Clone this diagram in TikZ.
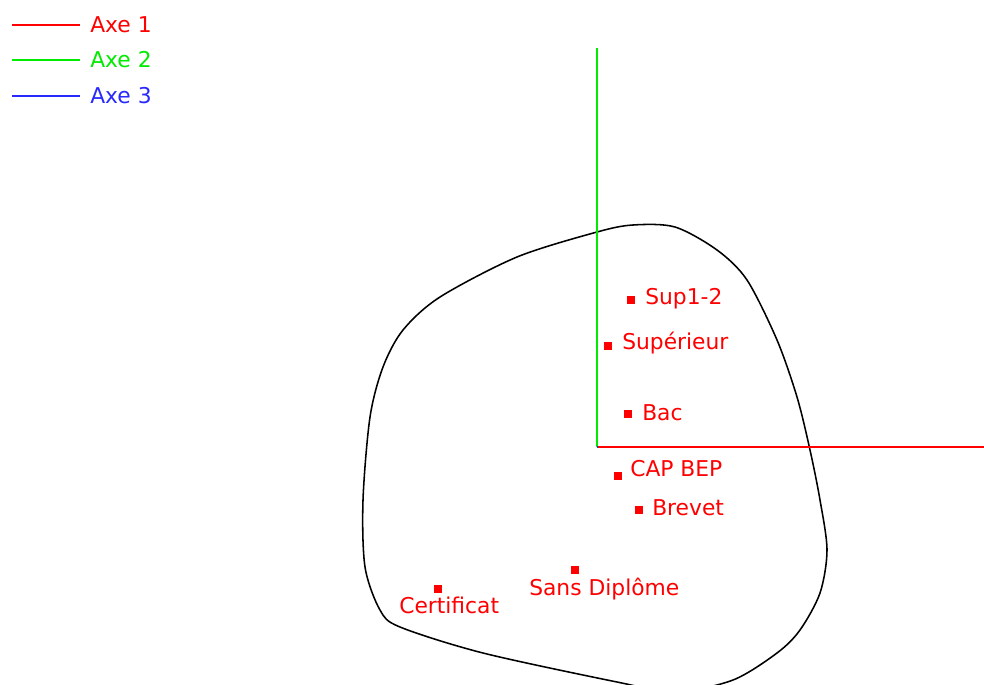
\documentclass[tikz,border=0pt]{standalone}
\usepackage{fontspec}
\setmainfont{DejaVu Sans}
\usetikzlibrary{positioning,calc}
\definecolor{axered}{RGB}{255,0,0}
\definecolor{axegreen}{RGB}{0,235,0}
\definecolor{axeblue}{RGB}{40,40,255}
\tikzset{
  pt/.style={fill=axered, inner sep=0pt, minimum size=0.21cm},
  lbl/.style={text=axered, anchor=west, inner sep=0pt, font=\fontsize{15.5}{17}\selectfont},
  leg/.style={anchor=west, inner sep=0pt, font=\fontsize{15.5}{17}\selectfont}
}
\begin{document}
\begin{tikzpicture}[x=0.025cm, y=-0.025cm]
				\useasboundingbox (0,0) rectangle (984,684);
				
				% Draw legend
				\coordinate (l1a) at (12,25); \coordinate (l1b) at (80,25);
				\coordinate (l2a) at (12,60); \coordinate (l2b) at (80,60);
				\coordinate (l3a) at (12,96); \coordinate (l3b) at (80,96);
				\draw[axered, line width=0.9pt] (l1a) -- (l1b);
				\draw[axegreen, line width=0.9pt] (l2a) -- (l2b);
				\draw[axeblue, line width=0.9pt] (l3a) -- (l3b);
				\node[leg, text=axered] (leg1) at (90,25) {Axe 1};
				\node[leg, text=axegreen] (leg2) at (90,60) {Axe 2};
				\node[leg, text=axeblue] (leg3) at (90,96) {Axe 3};
				
				% Draw contour
				\begin{scope}
				\clip (0,0) rectangle (984,684);
				\draw[line width=1.1pt] plot[smooth cycle] coordinates {
					(597,232) (633,225) (675,227) (717,250) (747,280) (777,340)
					(797,397) (810,450) (820,500) (827,550) (820,593) (800,630)
					(777,653) (733,680) (675,692) (617,682) (483,653) (400,627)
					(380,610) (365,567) (363,500) (370,417) (383,367) (403,330)
					(440,297) (517,257)};
				\end{scope}
				
				% Draw axes
				\coordinate (O) at (597,447);
				\coordinate (ax1) at (984,447);
				\coordinate (ax2) at (597,48);
				\draw[axered, line width=0.9pt] (O) -- (ax1);
				\draw[axegreen, line width=0.9pt] (O) -- (ax2);
				\draw[axeblue, line width=0.9pt] (O) -- ++(0.5,0);
				
				% Draw modalities
				\node[pt] (sup12) at (631,300) {};
				\node[pt] (sup) at (608,346) {};
				\node[pt] (bac) at (628,414) {};
				\node[pt] (cap) at (618,476) {};
				\node[pt] (brevet) at (639,510) {};
				\node[pt] (sansdip) at (575,570) {};
				\node[pt] (certif) at (438,589) {};
				
				\node[lbl] (tsup12) at (645,299) {Sup1-2};
				\node[lbl] (tsup) at (622,343) {Supérieur};
				\node[lbl] (tbac) at (642,413) {Bac};
				\node[lbl] (tcap) at (630,469) {CAP BEP};
				\node[lbl] (tbrevet) at (652,508) {Brevet};
				\node[lbl] (tsansdip) at (529,589) {Sans Diplôme};
				\node[lbl] (tcertif) at (399,605) {Certificat};
			\end{tikzpicture}
\end{document}
